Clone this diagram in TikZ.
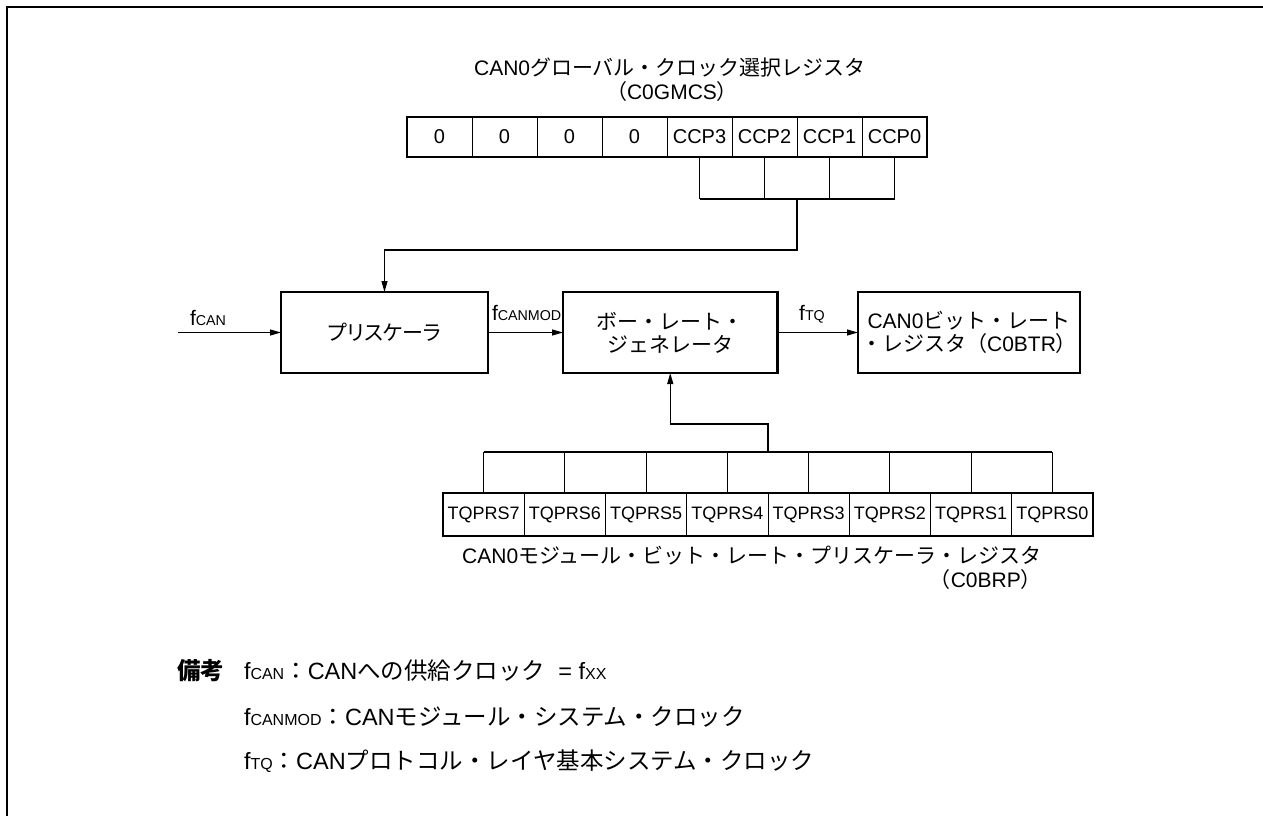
\documentclass[tikz,border=0pt]{standalone}
\usepackage{fontspec}
\setmainfont{Liberation Sans}
\newfontfamily\jpfont{Noto Sans CJK JP}
\usetikzlibrary{arrows.meta,calc}

\newcommand\jtext[1]{{\jpfont #1}}
\makeatletter
\newcommand\fsig[1]{f{\fontsize{\fpeval{0.68*\f@size}}{\f@baselineskip}\selectfont #1}}
\makeatother

\begin{document}
\begin{tikzpicture}[x=1pt,y=-1pt,>={Triangle[length=11pt,width=6pt]},
  every node/.style={inner sep=0pt,outer sep=0pt,font=\fontsize{21}{23}\selectfont},
  block/.style={draw,line width=2.8pt,minimum height=81pt,align=center},
  regcell/.style={draw,line width=0.9pt,minimum height=40pt,font=\fontsize{20}{22}\selectfont},
  notetext/.style={anchor=base west,font=\fontsize{23.5}{28}\selectfont},
  wire/.style={line width=1.1pt}]
  \useasboundingbox (0,0) rectangle (1263,816);
  \draw[line width=2.2pt] (7,816) -- (7,7) -- (1263,7);

  \node (gmtitle) at (670,68) {CAN0\jtext{グローバル・クロック選択レジスタ}};
  \node (gmname) at (672,92) {\jtext{（}C0GMCS\jtext{）}};
  \foreach \lbl [count=\i] in {0,0,0,0,CCP3,CCP2,CCP1,CCP0}
    \node[regcell,minimum width=65pt] (gm\i) at (374.5+65*\i,137) {\lbl};
  \draw[line width=2.8pt] (gm1.north west) rectangle (gm8.south east);

  \node[block,minimum width=207pt] (pre) at (384.5,332.5) {{\jpfont\addfontfeature{RawFeature=+palt}プリスケーラ}};
  \node[block,minimum width=214.5pt] (brg) at (670.25,332.5) {\jtext{ボー・レート・}\\\jtext{ジェネレータ}};
  \node[block,minimum width=222pt] (btr) at (969,332.5) {CAN0\jtext{ビット・レート}\\\jtext{・レジスタ（}C0BTR\jtext{）}};

  \foreach \lbl [count=\i] in {7,6,5,4,3,2,1,0}
    \node[regcell,minimum width=81.25pt,minimum height=43pt,font=\fontsize{18}{20}\selectfont] (tq\i) at (402.375+81.25*\i,514.5) {TQPRS\lbl};
  \draw[line width=2.8pt] (tq1.north west) rectangle (tq8.south east);
  \node (tqtitle) at (752,556) {CAN0\jtext{モジュール・ビット・レート・プリスケーラ・レジスタ}};
  \node[anchor=east] (tqname) at (tqtitle.east |- 0,580) {\jtext{（}C0BRP\jtext{）}};

  \foreach \i in {5,...,8}
    \draw[wire] (gm\i.south) -- ++(0,42);
  \draw[wire] ($(gm5.south)+(0,42)$) -- ($(gm8.south)+(0,42)$);
  \coordinate (gmjoin) at ($(gm6.south)!0.5!(gm7.south)+(0,42)$);
  \draw[wire,->] (gmjoin) -- ++(0,51) -| (pre.north);

  \foreach \i in {1,...,8}
    \draw[wire] (tq\i.north) -- ++(0,-41);
  \draw[wire] ($(tq1.north)+(0,-41)$) -- ($(tq8.north)+(0,-41)$);
  \coordinate (tqjoin) at ($(tq4.north)!0.5!(tq5.north)+(0,-41)$);
  \draw[wire,->] (tqjoin) -- ++(0,-28) -| (brg.south);

  \coordinate (fcanin) at (177.5,332.5);
  \draw[wire,->] (fcanin) -- (pre.west);
  \draw[wire,->] (pre.east) -- (brg.west);
  \draw[wire,->] (brg.east) -- (btr.west);
  \node[anchor=base west] (lblfcan) at (190,325) {\fsig{CAN}};
  \node[anchor=base west] (lblfmod) at (492,320) {\fsig{CANMOD}};
  \node[anchor=base] (lblftq) at (812,320) {\fsig{TQ}};

  \node[notetext,font=\fontsize{23.5}{28}\selectfont\bfseries] (notehead) at (177,679) {\jtext{備考}};
  \node[notetext] (note1) at (244,679) {\fsig{CAN}\jtext{：}CAN\jtext{への供給クロック}\ \ = \fsig{XX}};
  \node[notetext] (note2) at (244,725) {\fsig{CANMOD}\jtext{：}CAN\jtext{モジュール・システム・クロック}};
  \node[notetext] (note3) at (244,769) {\fsig{TQ}\jtext{：}CAN\jtext{プロトコル・レイヤ基本システム・クロック}};
\end{tikzpicture}
\end{document}
